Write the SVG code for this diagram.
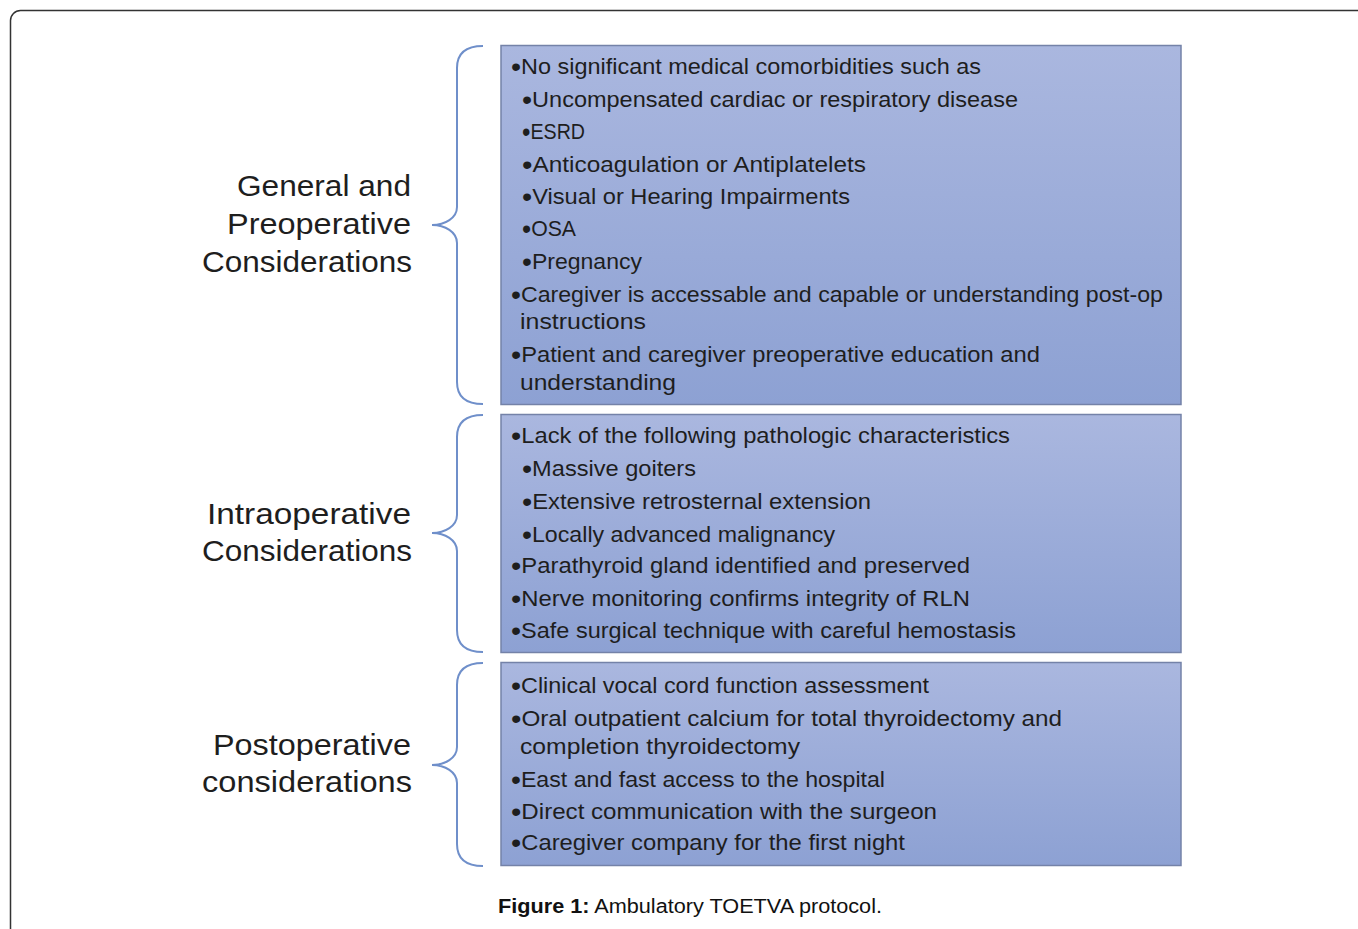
<svg xmlns="http://www.w3.org/2000/svg" width="1358" height="929" viewBox="0 0 1358 929">
<style>
.box{stroke:#7482a8;stroke-width:1.5;fill:url(#g)}
.t{font-family:"Liberation Sans",Arial,sans-serif;font-size:22px;fill:#1e1e1e}
.b{font-size:27px;baseline-shift:-2px}
.lbl{font-family:"Liberation Sans",Arial,sans-serif;font-size:30px;fill:#1e1e1e;text-anchor:end}
.cap{font-family:"Liberation Sans",Arial,sans-serif;font-size:20px;fill:#111}
.brace{fill:none;stroke:#6f8fca;stroke-width:2}
</style>
<defs>
<linearGradient id="g" x1="0" y1="0" x2="0" y2="1">
<stop offset="0" stop-color="#aab7df"/>
<stop offset="1" stop-color="#8da1d3"/>
</linearGradient>
</defs>
<rect x="0" y="0" width="1358" height="929" fill="#ffffff"/>
<rect x="10.5" y="10.5" width="1400" height="1000" rx="10" fill="none" stroke="#333" stroke-width="1.5"/>

<g id="connectors">
<path class="brace" d="M483,46 C468,46 457,52 457,68 L457,207 C457,218 445,225 432,225 C445,225 457,232 457,243 L457,382 C457,398 468,404 483,404"/>
<path class="brace" d="M483,415 C468,415 457,421 457,437 L457,515 C457,526 445,533 432,533 C445,533 457,540 457,551 L457,630 C457,646 468,652 483,652"/>
<path class="brace" d="M483,663 C468,663 457,669 457,685 L457,747 C457,758 445,765 432,765 C445,765 457,772 457,783 L457,844 C457,860 468,866 483,866"/>
</g>

<g id="label-general">
<text class="lbl" x="411" y="196" textLength="174" lengthAdjust="spacingAndGlyphs">General and</text>
<text class="lbl" x="411" y="234" textLength="184" lengthAdjust="spacingAndGlyphs">Preoperative</text>
<text class="lbl" x="412" y="272" textLength="210" lengthAdjust="spacingAndGlyphs">Considerations</text>
</g>
<g id="label-intra">
<text class="lbl" x="411" y="524" textLength="204" lengthAdjust="spacingAndGlyphs">Intraoperative</text>
<text class="lbl" x="412" y="561" textLength="210" lengthAdjust="spacingAndGlyphs">Considerations</text>
</g>
<g id="label-post">
<text class="lbl" x="411" y="755" textLength="198" lengthAdjust="spacingAndGlyphs">Postoperative</text>
<text class="lbl" x="412" y="792" textLength="210" lengthAdjust="spacingAndGlyphs">considerations</text>
</g>

<g id="box-general">
<rect class="box" x="501" y="45.5" width="680" height="359"/>
<text class="t" x="511" y="74" textLength="470" lengthAdjust="spacingAndGlyphs"><tspan class="b">•</tspan>No significant medical comorbidities such as</text>
<text class="t" x="522" y="107" textLength="496" lengthAdjust="spacingAndGlyphs"><tspan class="b">•</tspan>Uncompensated cardiac or respiratory disease</text>
<text class="t" x="522" y="139" textLength="63" lengthAdjust="spacingAndGlyphs"><tspan class="b">•</tspan>ESRD</text>
<text class="t" x="522" y="172" textLength="344" lengthAdjust="spacingAndGlyphs"><tspan class="b">•</tspan>Anticoagulation or Antiplatelets</text>
<text class="t" x="522" y="204" textLength="328" lengthAdjust="spacingAndGlyphs"><tspan class="b">•</tspan>Visual or Hearing Impairments</text>
<text class="t" x="522" y="236" textLength="54" lengthAdjust="spacingAndGlyphs"><tspan class="b">•</tspan>OSA</text>
<text class="t" x="522" y="269" textLength="120" lengthAdjust="spacingAndGlyphs"><tspan class="b">•</tspan>Pregnancy</text>
<text class="t" x="511" y="302" textLength="652" lengthAdjust="spacingAndGlyphs"><tspan class="b">•</tspan>Caregiver is accessable and capable or understanding post-op</text>
<text class="t" x="520" y="329" textLength="126" lengthAdjust="spacingAndGlyphs">instructions</text>
<text class="t" x="511" y="362" textLength="529" lengthAdjust="spacingAndGlyphs"><tspan class="b">•</tspan>Patient and caregiver preoperative education and</text>
<text class="t" x="520" y="390" textLength="156" lengthAdjust="spacingAndGlyphs">understanding</text>
</g>

<g id="box-intra">
<rect class="box" x="501" y="414.5" width="680" height="238"/>
<text class="t" x="511" y="443" textLength="499" lengthAdjust="spacingAndGlyphs"><tspan class="b">•</tspan>Lack of the following pathologic characteristics</text>
<text class="t" x="522" y="476" textLength="174" lengthAdjust="spacingAndGlyphs"><tspan class="b">•</tspan>Massive goiters</text>
<text class="t" x="522" y="509" textLength="349" lengthAdjust="spacingAndGlyphs"><tspan class="b">•</tspan>Extensive retrosternal extension</text>
<text class="t" x="522" y="542" textLength="313" lengthAdjust="spacingAndGlyphs"><tspan class="b">•</tspan>Locally advanced malignancy</text>
<text class="t" x="511" y="573" textLength="459" lengthAdjust="spacingAndGlyphs"><tspan class="b">•</tspan>Parathyroid gland identified and preserved</text>
<text class="t" x="511" y="606" textLength="459" lengthAdjust="spacingAndGlyphs"><tspan class="b">•</tspan>Nerve monitoring confirms integrity of RLN</text>
<text class="t" x="511" y="638" textLength="505" lengthAdjust="spacingAndGlyphs"><tspan class="b">•</tspan>Safe surgical technique with careful hemostasis</text>
</g>

<g id="box-post">
<rect class="box" x="501" y="662.5" width="680" height="203"/>
<text class="t" x="511" y="693" textLength="418" lengthAdjust="spacingAndGlyphs"><tspan class="b">•</tspan>Clinical vocal cord function assessment</text>
<text class="t" x="511" y="726" textLength="551" lengthAdjust="spacingAndGlyphs"><tspan class="b">•</tspan>Oral outpatient calcium for total thyroidectomy and</text>
<text class="t" x="520" y="754" textLength="280" lengthAdjust="spacingAndGlyphs">completion thyroidectomy</text>
<text class="t" x="511" y="787" textLength="374" lengthAdjust="spacingAndGlyphs"><tspan class="b">•</tspan>East and fast access to the hospital</text>
<text class="t" x="511" y="819" textLength="426" lengthAdjust="spacingAndGlyphs"><tspan class="b">•</tspan>Direct communication with the surgeon</text>
<text class="t" x="511" y="850" textLength="394" lengthAdjust="spacingAndGlyphs"><tspan class="b">•</tspan>Caregiver company for the first night</text>
</g>

<g id="caption">
<text class="cap" x="498" y="913" textLength="384" lengthAdjust="spacingAndGlyphs"><tspan font-weight="bold">Figure 1:</tspan> Ambulatory TOETVA protocol.</text>
</g>
</svg>
